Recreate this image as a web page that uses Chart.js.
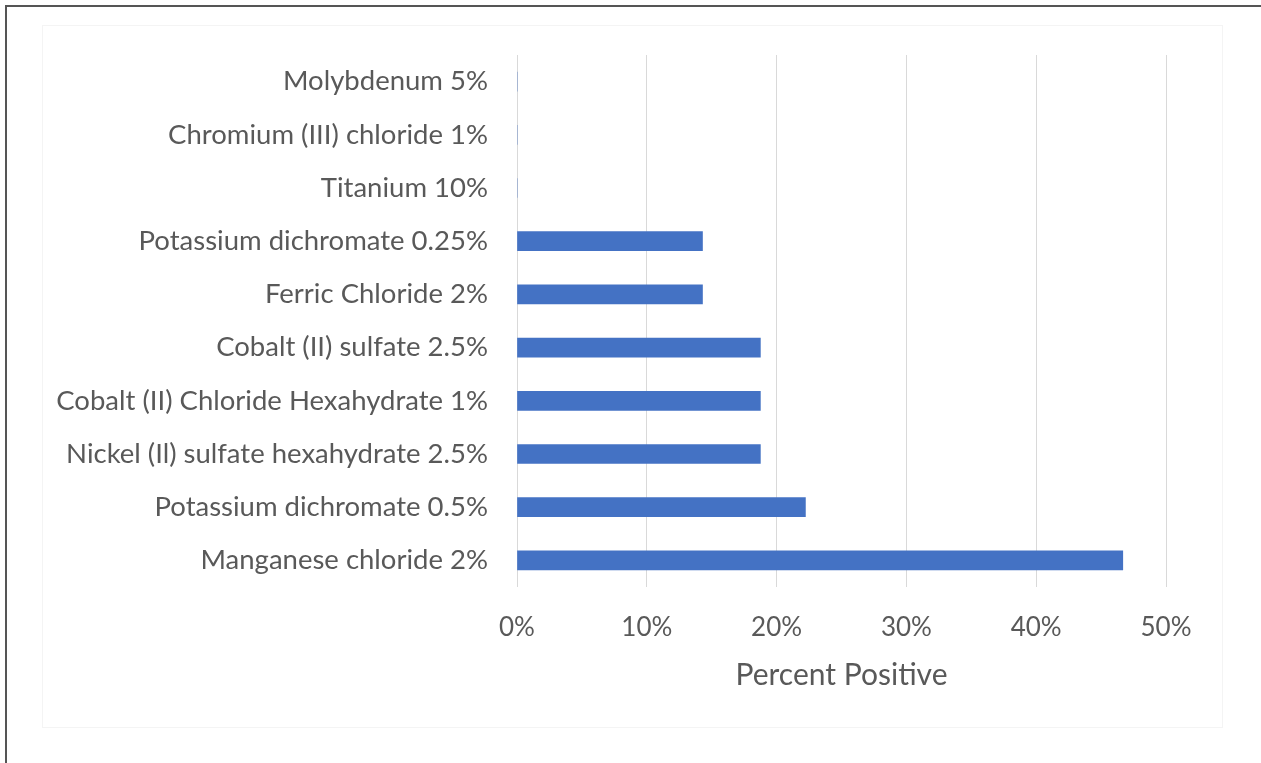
<!DOCTYPE html>
<html>
<head>
<meta charset="utf-8">
<script src="https://cdn.jsdelivr.net/npm/chart.js@4/dist/chart.umd.min.js"></script>
<style>
  html, body { margin: 0; padding: 0; background: #ffffff; }
  canvas { display: block; }
</style>
</head>
<body>
<canvas id="chart" width="1261" height="763"></canvas>
<script>
// Allergens tested, listed top to bottom
const categories = [
  'Molybdenum 5%',
  'Chromium (III) chloride 1%',
  'Titanium 10%',
  'Potassium dichromate 0.25%',
  'Ferric Chloride 2%',
  'Cobalt (II) sulfate 2.5%',
  'Cobalt (II) Chloride Hexahydrate 1%',
  'Nickel (Il) sulfate hexahydrate 2.5%',
  'Potassium dichromate 0.5%',
  'Manganese chloride 2%'
];

// Share of patients with a positive reaction, in percent
const percentPositive = [0, 0, 0, 14.29, 14.29, 18.75, 18.75, 18.75, 22.22, 46.67];

// Horizontal axis ticks
const tickValues = [0, 10, 20, 30, 40, 50];

const axisTitle = 'Percent Positive';

const FONT = 'Lato, "Open Sans", sans-serif';
const GREY = '#595959';

// Page frame: dark rule on the top and left edges, faint box round the chart
const framePlugin = {
  id: 'frame',
  beforeDraw(chart) {
    const ctx = chart.ctx;
    ctx.save();
    ctx.fillStyle = '#ffffff';
    ctx.fillRect(0, 0, chart.width, chart.height);
    ctx.strokeStyle = '#f4f4f4';
    ctx.lineWidth = 1;
    ctx.strokeRect(42.5, 25.5, 1180, 702);
    ctx.strokeStyle = '#555555';
    ctx.lineWidth = 2;
    ctx.beginPath();
    ctx.moveTo(5, 6);
    ctx.lineTo(chart.width, 6);
    ctx.moveTo(6, 5);
    ctx.lineTo(6, chart.height);
    ctx.stroke();
    ctx.restore();
  }
};

new Chart(document.getElementById('chart'), {
  type: 'bar',
  data: {
    labels: categories,
    datasets: [{
      data: percentPositive,
      backgroundColor: '#4472C4',
      borderWidth: 0,
      barThickness: 19
    }]
  },
  options: {
    indexAxis: 'y',
    responsive: false,
    animation: false,
    layout: { padding: { top: 55, right: 95, bottom: 0, left: 0 } },
    plugins: {
      legend: { display: false },
      tooltip: { enabled: false }
    },
    scales: {
      x: {
        min: 0,
        max: 50,
        afterBuildTicks(scale) {
          scale.ticks = tickValues.map(v => ({ value: v }));
        },
        afterFit(scale) { scale.height = 176; },
        grid: { color: '#d9d9d9', lineWidth: 1, drawTicks: false },
        border: { display: false },
        ticks: {
          padding: 25,
          maxRotation: 0,
          color: GREY,
          font: { family: FONT, size: 26 },
          callback: v => v + '%'
        },
        title: {
          display: true,
          text: axisTitle,
          color: GREY,
          font: { family: FONT, size: 30 },
          padding: { top: 0, bottom: 70 }
        }
      },
      y: {
        afterFit(scale) { scale.width = 517; },
        grid: { display: false, drawTicks: false },
        border: { display: false },
        ticks: {
          padding: 29,
          autoSkip: false,
          color: GREY,
          font: { family: FONT, size: 27.5 }
        }
      }
    }
  },
  plugins: [framePlugin]
});
</script>
</body>
</html>
